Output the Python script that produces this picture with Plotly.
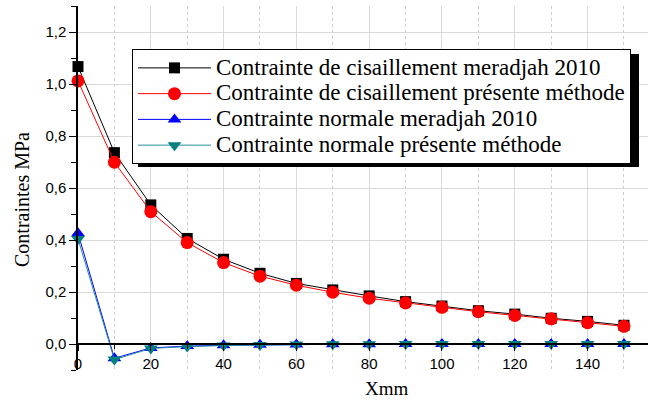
import plotly.graph_objects as go

x = [0, 10, 20, 30, 40, 50, 60, 70, 80, 90, 100, 110, 120, 130, 140, 150]
cis_meradjah = [1.067, 0.736, 0.535, 0.406, 0.326, 0.272, 0.233, 0.208, 0.185, 0.163, 0.146, 0.128, 0.115, 0.099, 0.087, 0.072]
cis_present = [1.012, 0.699, 0.509, 0.390, 0.313, 0.261, 0.226, 0.199, 0.176, 0.158, 0.141, 0.124, 0.110, 0.097, 0.082, 0.068]
norm_meradjah = [0.426, -0.055, -0.015, -0.008, -0.005, -0.003, -0.002, -0.001, -0.001, 0.0, 0.0, 0.0, 0.0, 0.0, 0.0, 0.0]
norm_present = [0.404, -0.060, -0.017, -0.010, -0.006, -0.004, -0.002, -0.001, -0.001, 0.0, 0.0, 0.0, 0.0, 0.0, 0.0, 0.0]

names = ["Contrainte de cisaillement meradjah 2010",
         "Contrainte de cisaillement présente méthode",
         "Contrainte normale meradjah 2010",
         "Contrainte normale présente méthode"]

def lg(t):
    return "<span style='font-size:23px'>" + t + "</span>"

fig = go.Figure()
fig.add_trace(go.Scatter(x=x, y=cis_meradjah, name=lg(names[0]), mode="lines+markers",
                         line=dict(color="black", width=1),
                         marker=dict(symbol="square", size=11, color="black"), cliponaxis=False))
fig.add_trace(go.Scatter(x=x, y=cis_present, name=lg(names[1]), mode="lines+markers",
                         line=dict(color="red", width=1),
                         marker=dict(symbol="circle", size=13, color="red"), cliponaxis=False))
fig.add_trace(go.Scatter(x=x, y=norm_meradjah, name=lg(names[2]), mode="lines+markers",
                         line=dict(color="blue", width=1),
                         marker=dict(symbol="triangle-up", size=12, color="blue"), cliponaxis=False))
fig.add_trace(go.Scatter(x=x, y=norm_present, name=lg(names[3]), mode="lines+markers",
                         line=dict(color="#2a8ca0", width=1),
                         marker=dict(symbol="triangle-down", size=12, color="#008080"), cliponaxis=False))

L, R, T, B, W, H = 78, 10, 6, 35, 658, 405
pw, ph = W - L - R, H - T - B
def px(v):
    return (v - L) / pw
def py(v):
    return (H - B - v) / ph

ymin, ymax = -0.1, 1.3
fig.update_layout(
    width=W, height=H,
    margin=dict(l=L, r=R, t=T, b=B),
    paper_bgcolor="white", plot_bgcolor="white",
    separators=",.",
    showlegend=True,
    legend=dict(x=px(132), y=py(49), xanchor="left", yanchor="top",
                bgcolor="white", bordercolor="black", borderwidth=1,
                font=dict(family="Liberation Serif", size=17.5, color="black"),
                itemwidth=73, tracegroupgap=0),
    shapes=[dict(type="rect", xref="paper", yref="paper",
                 x0=px(138), x1=px(639), y0=py(167), y1=py(54),
                 fillcolor="black", line=dict(width=0), layer="above")],
    annotations=[
        dict(text="Contraintes MPa", xref="paper", yref="paper", x=px(22), y=py(200),
             xanchor="center", yanchor="middle", textangle=-90, showarrow=False,
             font=dict(family="Liberation Serif", size=20, color="black")),
        dict(text="Xmm", xref="paper", yref="paper", x=px(387), y=py(388),
             xanchor="center", yanchor="middle", showarrow=False,
             font=dict(family="Liberation Serif", size=19, color="black")),
    ],
    xaxis=dict(range=[0, 156.6], anchor="free", position=(0 - ymin) / (ymax - ymin),
               showline=True, linecolor="black", linewidth=1.5,
               tick0=0, dtick=20, ticks="outside", ticklen=6, tickcolor="black",
               showgrid=True, gridcolor="#d9d9d9", gridwidth=1,
               minor=dict(dtick=10, showgrid=True, gridcolor="#cccccc", griddash="dot",
                          ticks="outside", ticklen=4, tickcolor="black"),
               tickfont=dict(family="Liberation Sans", size=15, color="black"),
               zeroline=False),
    yaxis=dict(range=[ymin, ymax], showline=True, linecolor="black", linewidth=1.5,
               tick0=0, dtick=0.2, tickformat=".1f", ticks="outside", ticklen=7, tickcolor="black",
               showgrid=True, gridcolor="#d9d9d9", gridwidth=1,
               minor=dict(dtick=0.1, ticks="outside", ticklen=5, tickcolor="black", showgrid=False),
               tickfont=dict(family="Liberation Sans", size=15, color="black"),
               zeroline=False),
)
fig.write_html("out.html")
